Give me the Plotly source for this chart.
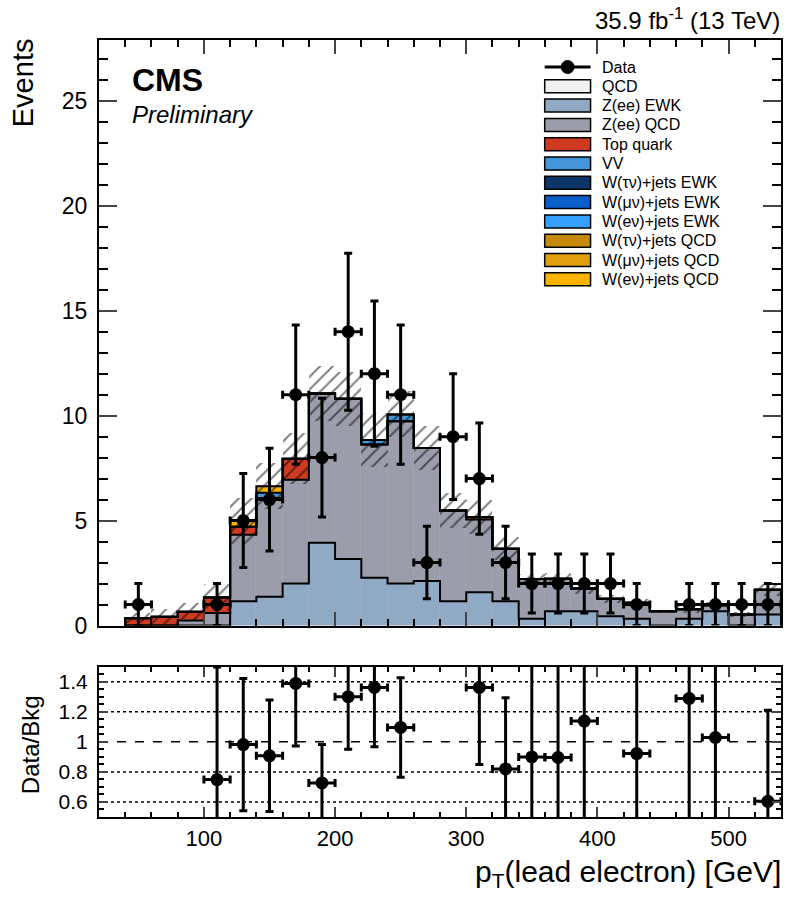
import numpy as np
import plotly.graph_objects as go

FONT = "Liberation Sans, Arial, Helvetica, sans-serif"

# ---------------- data ----------------
bin_centers = [50, 70, 90, 110, 130, 150, 170, 190, 210, 230, 250, 270, 290,
               310, 330, 350, 370, 390, 410, 430, 450, 470, 490, 510, 530]
bin_width = 20

comp_names = ["QCD", "Z(ee) EWK", "Z(ee) QCD", "Top quark", "VV",
              "W(τν)+jets EWK", "W(μν)+jets EWK", "W(eν)+jets EWK",
              "W(τν)+jets QCD", "W(μν)+jets QCD", "W(eν)+jets QCD"]
comp_colors = ["#f0f0f0", "#90a9c5", "#9b9eaa", "#d03a22", "#4596d9",
               "#0b3467", "#0a5ec9", "#35a0ff", "#c48a0c", "#e09e10", "#fbb300"]

qcd       = [0]*25
zee_ewk   = [0, 0, 0, 0, 1.16, 1.37, 2.00, 3.94, 3.17, 2.27, 2.00, 2.12, 1.16,
             1.59, 1.16, 0.32, 0.68, 0.68, 0.44, 0.32, 0, 0.32, 0.68, 0, 0.52]
zee_qcd   = [0, 0, 0.24, 0.60, 3.17, 4.71, 4.95, 7.11, 7.63, 6.35, 7.73, 6.34, 4.32,
             3.46, 2.50, 1.90, 1.55, 1.08, 0.83, 0.77, 0.68, 0.46, 0.29, 0.52, 1.18]
top_quark = [0.35, 0.42, 0.41, 0.74, 0.38, 0, 1.00, 0, 0, 0, 0, 0, 0,
             0.12, 0, 0, 0, 0, 0, 0, 0, 0, 0, 0, 0]
vv        = [0, 0, 0, 0, 0, 0.24, 0, 0, 0, 0.22, 0.33, 0, 0,
             0, 0, 0, 0, 0, 0, 0, 0, 0, 0, 0, 0]
w_tau_ewk = [0]*25
w_mu_ewk  = [0]*25
w_e_ewk   = [0]*25
w_tau_qcd = [0]*25
w_mu_qcd  = [0]*25
w_e_qcd   = [0, 0, 0, 0, 0.28, 0.32, 0, 0, 0, 0, 0, 0, 0,
             0, 0, 0, 0, 0, 0, 0, 0, 0, 0, 0, 0]

bkg_unc   = [0.25, 0.35, 0.43, 0.65, 1.10, 1.10, 1.20, 1.30, 1.30, 1.30, 1.10, 1.05, 0.85,
             0.80, 0.55, 0.25, 0.25, 0.25, 0.20, 0.15, 0.08, 0.20, 0.15, 0.12, 0.30]

data      = [1, 0, 0, 1, 5, 6, 11, 8, 14, 12, 11, 3, 9, 7, 3, 2, 2, 2, 2, 1, 0, 1, 1, 1, 1]
data_err  = [1.0, 0, 0, 1.0, 2.24, 2.45, 3.32, 2.83, 3.74, 3.46, 3.32, 1.73, 3.0,
             2.65, 1.73, 1.41, 1.41, 1.41, 1.41, 1.0, 0, 1.0, 1.0, 1.0, 1.0]

ratio     = [None, None, None, 0.749, 0.982, 0.907, 1.389, 0.727, 1.300, 1.362, 1.096, None, None,
             1.362, 0.820, 0.900, 0.896, 1.138, None, 0.922, None, 1.289, 1.029, None, 0.604]
ratio_err = [None, None, None, 0.749, 0.440, 0.371, 0.416, 0.255, 0.349, 0.395, 0.331, None, None,
             0.513, 0.473, 0.637, 0.633, 0.805, None, 0.922, None, 1.289, 1.029, None, 0.607]

ratio_grid_dotted = [0.6, 0.8, 1.2, 1.4]
ratio_grid_dashed = [1.0]

components = [qcd, zee_ewk, zee_qcd, top_quark, vv, w_tau_ewk, w_mu_ewk, w_e_ewk,
              w_tau_qcd, w_mu_qcd, w_e_qcd]

# ---------------- layout geometry helpers ----------------
W, H = 786, 897
ML, MR, MT, MB = 99, 3, 40, 80
PW, PH = W - ML - MR, H - MT - MB


def px_x(px):
    return (px - ML) / PW


def px_y(py):
    return (H - MB - py) / PH


fig = go.Figure()

centers = np.array(bin_centers, dtype=float)
half = bin_width / 2
lo_edges = list(centers - half)
hi_edge = centers[-1] + half
step_x = [lo_edges[0]] + lo_edges + [hi_edge, hi_edge]

# stacked fills
cum = np.zeros(len(centers))
cum_levels = []
for name, col, vals in zip(comp_names, comp_colors, components):
    v = np.array(vals, dtype=float)
    if v.sum() > 0:
        fig.add_trace(go.Bar(x=centers, y=v, base=cum.copy(), width=bin_width,
                             marker=dict(color=col, line=dict(color=col, width=0.5)),
                             showlegend=False, hoverinfo="skip", xaxis="x", yaxis="y"))
    cum = cum + v
    if v.sum() > 0:
        cum_levels.append(cum.copy())
total = cum.copy()

# uncertainty hatch
unc = np.array(bkg_unc)
low = np.maximum(total - unc, 0)
fig.add_trace(go.Bar(x=centers, y=(total + unc) - low, base=low, width=bin_width,
                     marker=dict(color="rgba(0,0,0,0)", line=dict(width=0),
                                 pattern=dict(shape="/", fgcolor="black",
                                              bgcolor="rgba(0,0,0,0)", size=9, solidity=0.22)),
                     showlegend=False, hoverinfo="skip", xaxis="x", yaxis="y"))

# step outlines for each stacked level
for lev in cum_levels:
    sy = [0] + list(lev) + [lev[-1], 0]
    fig.add_trace(go.Scatter(x=step_x, y=sy, mode="lines",
                             line=dict(color="black", width=2, shape="hv"),
                             showlegend=False, hoverinfo="skip", xaxis="x", yaxis="y"))

# data points
dx = [c for c, d in zip(bin_centers, data) if d > 0]
dy = [d for d in data if d > 0]
de = [e for e, d in zip(data_err, data) if d > 0]
fig.add_trace(go.Scatter(x=dx, y=dy, mode="markers",
                         marker=dict(color="black", size=13),
                         error_y=dict(type="data", array=de, color="black", thickness=3, width=4),
                         error_x=dict(type="data", array=[half]*len(dx), color="black", thickness=3, width=4),
                         showlegend=False, xaxis="x", yaxis="y"))

# ratio points
rx = [c for c, r in zip(bin_centers, ratio) if r is not None]
ry = [r for r in ratio if r is not None]
re_ = [e for e, r in zip(ratio_err, ratio) if r is not None]
fig.add_trace(go.Scatter(x=rx, y=ry, mode="markers",
                         marker=dict(color="black", size=13),
                         error_y=dict(type="data", array=re_, color="black", thickness=3, width=4),
                         error_x=dict(type="data", array=[half]*len(rx), color="black", thickness=3, width=4),
                         showlegend=False, xaxis="x2", yaxis="y2"))

# ---------------- axes ----------------
top_dom = [px_y(625.5), 1.0]
bot_dom = [0.0, px_y(666.7)]

common_x = dict(range=[20, 540], showline=True, linecolor="black", linewidth=2, mirror="allticks",
                ticks="inside", tick0=0, dtick=100, showgrid=False, zeroline=False,
                tickfont=dict(size=22, family=FONT, color="black"))
fig.update_layout(
    xaxis=dict(**common_x, anchor="y", ticklen=14, tickwidth=1.5, showticklabels=False,
               minor=dict(dtick=20, tick0=0, ticks="inside", ticklen=7, tickwidth=1.5, tickcolor="black")),
    yaxis=dict(domain=top_dom, range=[0, 27.9], anchor="x", showline=True, linecolor="black",
               linewidth=2, mirror="allticks", ticks="inside", ticklen=18, tickwidth=1.5,
               tick0=0, dtick=5, showgrid=False, zeroline=False, ticklabelstandoff=5,
               tickfont=dict(size=23, family=FONT, color="black"),
               minor=dict(dtick=1, tick0=0, ticks="inside", ticklen=9, tickwidth=1.5, tickcolor="black")),
    xaxis2=dict(**common_x, anchor="y2", matches="x", ticklen=10, tickwidth=1.5,
                ticklabelstandoff=1,
                minor=dict(dtick=20, tick0=0, ticks="inside", ticklen=5, tickwidth=1.5, tickcolor="black")),
    yaxis2=dict(domain=bot_dom, range=[0.5, 1.5], anchor="x2", showline=True, linecolor="black",
                linewidth=2, mirror="allticks", ticks="inside", ticklen=9, tickwidth=1.5,
                tickvals=[0.6, 0.8, 1.0, 1.2, 1.4], ticktext=["0.6", "0.8", "1", "1.2", "1.4"],
                showgrid=False, zeroline=False, ticklabelstandoff=5,
                tickfont=dict(size=21, family=FONT, color="black"),
                minor=dict(dtick=0.05, tick0=0, ticks="inside", ticklen=5, tickwidth=1.5, tickcolor="black")),
    barmode="overlay", bargap=0,
    width=W, height=H, margin=dict(l=ML, r=MR, t=MT, b=MB),
    plot_bgcolor="white", paper_bgcolor="white", showlegend=False,
    font=dict(family=FONT, color="black"),
)

shapes = []
for lv in ratio_grid_dotted:
    shapes.append(dict(type="line", xref="x2 domain", yref="y2", x0=0, x1=1, y0=lv, y1=lv,
                       line=dict(color="black", width=1.5, dash="dot"), layer="below"))
for lv in ratio_grid_dashed:
    shapes.append(dict(type="line", xref="x2 domain", yref="y2", x0=0, x1=1, y0=lv, y1=lv,
                       line=dict(color="black", width=1.5, dash="dash"), layer="below"))

annotations = []
# legend (manual, ROOT style)
leg_rows_y0, leg_dy = 67.0, 19.3
box_x0, box_x1, text_x = 546, 592, 601
legend_items = [("Data", None)] + list(zip(comp_names, comp_colors))
for i, (name, col) in enumerate(legend_items):
    yc = leg_rows_y0 + i * leg_dy
    if col is None:
        shapes.append(dict(type="line", xref="paper", yref="paper", x0=px_x(box_x0), x1=px_x(box_x1),
                           y0=px_y(yc), y1=px_y(yc), line=dict(color="black", width=3)))
        xm = (box_x0 + box_x1) / 2
        shapes.append(dict(type="circle", xref="paper", yref="paper", x0=px_x(xm - 6.5), x1=px_x(xm + 6.5),
                           y0=px_y(yc + 6.5), y1=px_y(yc - 6.5), fillcolor="black",
                           line=dict(color="black", width=1)))
    else:
        shapes.append(dict(type="rect", xref="paper", yref="paper", x0=px_x(box_x0), x1=px_x(box_x1),
                           y0=px_y(yc + 6.5), y1=px_y(yc - 6.5), fillcolor=col,
                           line=dict(color="black", width=1.5)))
    annotations.append(dict(x=px_x(text_x), y=px_y(yc), xref="paper", yref="paper", text=name,
                            showarrow=False, xanchor="left", yanchor="middle",
                            font=dict(size=16, family=FONT, color="black")))

annotations += [
    dict(x=px_x(130), y=px_y(80), xref="paper", yref="paper", text="<b>CMS</b>", showarrow=False,
         xanchor="left", yanchor="middle", font=dict(size=32, family=FONT, color="black")),
    dict(x=px_x(130), y=px_y(114), xref="paper", yref="paper", text="<i>Preliminary</i>", showarrow=False,
         xanchor="left", yanchor="middle", font=dict(size=24, family=FONT, color="black")),
    dict(x=px_x(784), y=px_y(19), xref="paper", yref="paper", text="35.9 fb<sup>-1</sup> (13 TeV)",
         showarrow=False, xanchor="right", yanchor="middle", font=dict(size=24, family=FONT, color="black")),
    dict(x=px_x(23), y=px_y(83), xref="paper", yref="paper", text="Events", textangle=-90,
         showarrow=False, xanchor="center", yanchor="middle", font=dict(size=29, family=FONT, color="black")),
    dict(x=px_x(30), y=px_y(745), xref="paper", yref="paper", text="Data/Bkg", textangle=-90,
         showarrow=False, xanchor="center", yanchor="middle", font=dict(size=24, family=FONT, color="black")),
    dict(x=px_x(785), y=px_y(873), xref="paper", yref="paper", text="p<sub>T</sub>(lead electron) [GeV]",
         showarrow=False, xanchor="right", yanchor="middle", font=dict(size=30, family=FONT, color="black")),
]

fig.update_layout(shapes=shapes, annotations=annotations)
fig.write_html("out.html", config={"displayModeBar": False},
               post_script="document.body.style.margin='0';document.body.style.overflow='hidden';")
